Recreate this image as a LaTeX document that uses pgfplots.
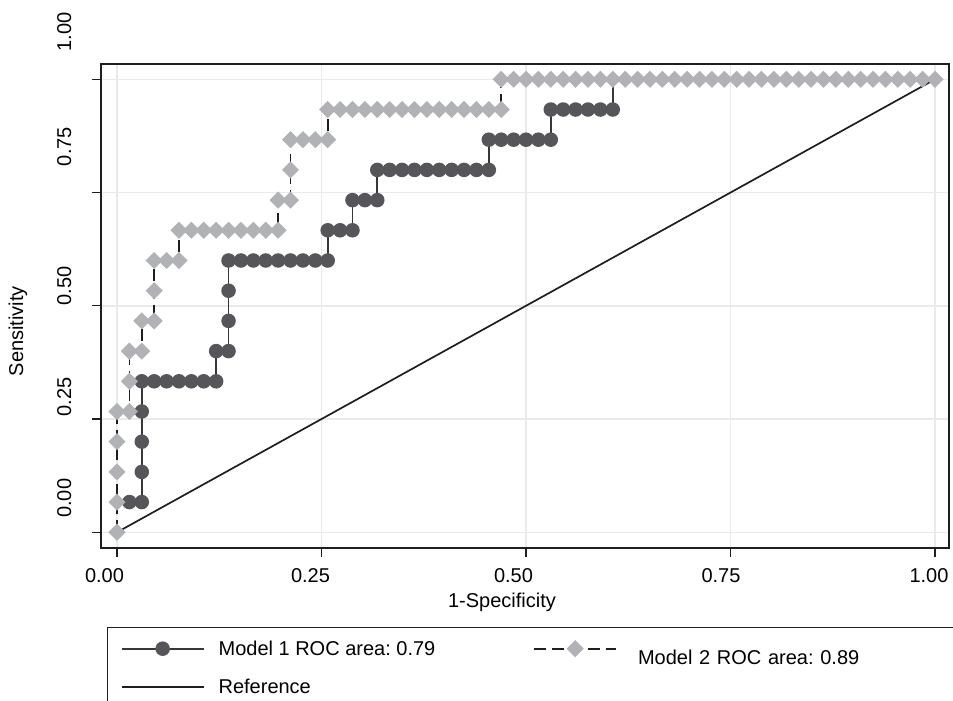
\documentclass[border=0pt]{standalone}
\usepackage{fontspec}
\setmainfont{Liberation Sans}
\usepackage{pgfplots}
\pgfplotsset{compat=1.18}

\definecolor{mone}{RGB}{85,85,90}
\definecolor{monel}{RGB}{55,55,58}
\definecolor{mtwo}{RGB}{177,178,182}
\definecolor{gridc}{RGB}{234,234,234}
\definecolor{spine}{RGB}{30,30,30}

% legend samples, 82pt long
\pgfplotsset{
  legmark/.style={legend image code/.code={\draw[mark repeat=2,mark phase=2,##1]
      plot coordinates {(0pt,0pt) (41pt,0pt) (82pt,0pt)};}},
  legline/.style={legend image code/.code={\draw[##1] (0pt,0pt) -- (82pt,0pt);}},
}

\begin{document}
\frenchspacing
\begin{tikzpicture}[font=\fontsize{20}{24}\selectfont]
\begin{axis}[
    at={(0pt,0pt)}, anchor=south west,
    scale only axis, width=848pt, height=484pt,
    xmin=-0.01956, xmax=1.01711,
    ymin=-0.0347, ymax=1.0338,
    axis line style={line width=1.4pt, spine},
    xtick={0,0.25,0.5,0.75,1}, ytick={0,0.25,0.5,0.75,1},
    xticklabels={0.00,0.25,0.50,0.75,1.00},
    yticklabels={0.00,0.25,0.50,0.75,1.00},
    /pgf/number format/assume math mode=true,
    tick align=outside, tick pos=left, major tick length=9pt,
    tick style={line width=1.4pt, spine},
    grid=major, major grid style={line width=1.5pt, gridc},
    xticklabel style={inner sep=0pt, anchor=north, yshift=-11pt,
        xshift={{-12.5,-11,-12.5,-9.5,-6}[\ticknum]}},
    yticklabel style={inner sep=0pt, xshift=-20.5pt,
        yshift={{34,22,20,46,47.5}[\ticknum]}, rotate=90, anchor=south},
    xlabel={1-Specificity}, ylabel={Sensitivity},
    xlabel style={at={(axis description cs:0.4729,-0.1116)}, anchor=center},
    ylabel style={at={(axis description cs:-0.0979,0.4483)}, anchor=center},
    legend columns=2,
    legend cell align=left,
    legend style={at={(axis description cs:0.00708,-0.1632)}, anchor=north west,
        draw=spine, line width=1.4pt, inner xsep=13pt, inner ysep=11pt,
        row sep=9pt,
        /tikz/column 1/.style={column sep=12pt},
        /tikz/column 2/.style={column sep=96pt},
        /tikz/column 3/.style={column sep=19pt},
        /tikz/column 4/.style={text width=330pt, yshift=-9pt}},
]
% Model 1
\addplot[monel, line width=1.9pt, mark=*, mark size=6.3pt,
    mark options={fill=mone, draw=mone, solid}, legmark]
coordinates {
(0.01515,0.0667) (0.03030,0.0667) (0.03030,0.1333) (0.03030,0.2000)
(0.03030,0.2667) (0.03030,0.3333) (0.04545,0.3333) (0.06061,0.3333)
(0.07576,0.3333) (0.09091,0.3333) (0.10606,0.3333) (0.12121,0.3333)
(0.12121,0.4000) (0.13636,0.4000) (0.13636,0.4667) (0.13636,0.5333)
(0.13636,0.6000) (0.15152,0.6000) (0.16667,0.6000) (0.18182,0.6000)
(0.19697,0.6000) (0.21212,0.6000) (0.22727,0.6000) (0.24242,0.6000)
(0.25758,0.6000) (0.25758,0.6667) (0.27273,0.6667) (0.28788,0.6667)
(0.28788,0.7333) (0.30303,0.7333) (0.31818,0.7333) (0.31818,0.8000)
(0.33333,0.8000) (0.34848,0.8000) (0.36364,0.8000) (0.37879,0.8000)
(0.39394,0.8000) (0.40909,0.8000) (0.42424,0.8000) (0.43939,0.8000)
(0.45455,0.8000) (0.45455,0.8667) (0.46970,0.8667) (0.48485,0.8667)
(0.50000,0.8667) (0.51515,0.8667) (0.53030,0.8667) (0.53030,0.9333)
(0.54545,0.9333) (0.56061,0.9333) (0.57576,0.9333) (0.59091,0.9333)
(0.60606,0.9333)
};
\addlegendentry{Model 1 ROC area: 0.79}
% Model 2
\addplot[spine, line width=1.7pt, dash pattern=on 12pt off 6pt,
    mark=square*, mark size=5.2pt,
    mark options={fill=mtwo, draw=mtwo, solid, rotate=45}, legmark]
coordinates {
(0,0) (0,0.0667) (0,0.1333) (0,0.2000) (0,0.2667)
(0.01515,0.2667) (0.01515,0.3333) (0.01515,0.4000) (0.03030,0.4000)
(0.03030,0.4667) (0.04545,0.4667) (0.04545,0.5333) (0.04545,0.6000)
(0.06061,0.6000) (0.07576,0.6000) (0.07576,0.6667) (0.09091,0.6667)
(0.10606,0.6667) (0.12121,0.6667) (0.13636,0.6667) (0.15152,0.6667)
(0.16667,0.6667) (0.18182,0.6667) (0.19697,0.6667) (0.19697,0.7333)
(0.21212,0.7333) (0.21212,0.8000) (0.21212,0.8667) (0.22727,0.8667)
(0.24242,0.8667) (0.25758,0.8667) (0.25758,0.9333) (0.27273,0.9333)
(0.28788,0.9333) (0.30303,0.9333) (0.31818,0.9333) (0.33333,0.9333)
(0.34848,0.9333) (0.36364,0.9333) (0.37879,0.9333) (0.39394,0.9333)
(0.40909,0.9333) (0.42424,0.9333) (0.43939,0.9333) (0.45455,0.9333)
(0.46970,0.9333) (0.46970,1) (0.48485,1) (0.50000,1) (0.51515,1)
(0.53030,1) (0.54545,1) (0.56061,1) (0.57576,1) (0.59091,1)
(0.60606,1) (0.62121,1) (0.63636,1) (0.65152,1) (0.66667,1)
(0.68182,1) (0.69697,1) (0.71212,1) (0.72727,1) (0.74242,1)
(0.75758,1) (0.77273,1) (0.78788,1) (0.80303,1) (0.81818,1)
(0.83333,1) (0.84848,1) (0.86364,1) (0.87879,1) (0.89394,1)
(0.90909,1) (0.92424,1) (0.93939,1) (0.95455,1) (0.96970,1)
(0.98485,1) (1,1)
};
\addlegendentry{Model 2 ROC area: 0.89}
% Reference
\addplot[spine, line width=1.7pt, legline] coordinates {(0,0) (1,1)};
\addlegendentry{Reference}
% last step of model 1 (line only)
\addplot[monel, line width=1.9pt, forget plot] coordinates {(0.60606,0.9333) (0.60606,1)};
\end{axis}
\pgfresetboundingbox
\useasboundingbox (-101pt,-153pt) rectangle (852pt,548pt);
\end{tikzpicture}
\end{document}
